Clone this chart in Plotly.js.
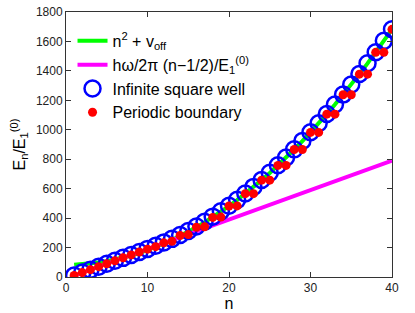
<!DOCTYPE html>
<html>
<head>
<meta charset="utf-8">
<script src="https://cdn.plot.ly/plotly-3.0.1.min.js"></script>
<style>html,body{margin:0;padding:0;background:#fff}#chart{width:415px;height:313px}</style>
</head>
<body>
<div id="chart"></div>
<script>
// level index
const levels = [1,2,3,4,5,6,7,8,9,10,11,12,13,14,15,16,17,18,19,20,21,22,23,24,25,26,27,28,29,30,31,32,33,34,35,36,37,38,39,40];
// n^2 + v_off curve
const freeCurve = [83,86,91,98,107,118,131,146,163,182,203,226,251,278,307,338,371,406,443,482,523,566,611,658,707,758,811,866,923,982,1043,1106,1171,1238,1307,1378,1451,1526,1603,1682];
// harmonic line endpoints
const harmN = [1, 40];
const harmE = [10, 790];
// infinite square well levels
const squareWell = [10,30,50,70,90,110,130,150,170,191,212,235,259,285,313,343,375,410,446,484,524,567,612,659,708,759,812,867,924,983,1044,1107,1172,1239,1308,1379,1452,1527,1604,1683];
// periodic boundary levels
const periodic = [10,30,50,70,90,110,130,150,170,189,206,232,242,282,288,338,341,405,407,482,483,566,566,658,658,758,758,866,866,982,982,1106,1106,1238,1238,1378,1378,1526,1526,1682];

const xTicks = [0,10,20,30,40];
const yTicks = [0,200,400,600,800,1000,1200,1400,1600,1800];

const traces = [
  {x: levels, y: freeCurve, type:'scatter', mode:'lines', name:'n<sup>2</sup> + v<sub>off</sub>',
   line:{color:'#00ff00', width:4}},
  {x: harmN, y: harmE, type:'scatter', mode:'lines', name:'hω/2π (n−1/2)/E<sub>1</sub><sup>(0)</sup>',
   line:{color:'#ff00ff', width:4}},
  {x: levels, y: squareWell, type:'scatter', mode:'markers', name:'Infinite square well',
   marker:{symbol:'circle-open', size:16, color:'#0000ff', line:{width:2.5, color:'#0000ff'}}},
  {x: levels, y: periodic, type:'scatter', mode:'markers', name:'Periodic boundary',
   marker:{symbol:'circle', size:9, color:'#ff0000'}}
];

const axisCommon = {
  showgrid:false, zeroline:false, showline:true, linecolor:'#333', linewidth:1,
  mirror:'ticks', ticks:'inside', ticklen:5, tickcolor:'#333',
  tickfont:{family:'Liberation Sans, Arial, sans-serif', size:12, color:'#222'}
};

const layout = {
  width:415, height:313,
  margin:{l:66, r:23, t:12, b:36},
  paper_bgcolor:'#fff', plot_bgcolor:'#fff',
  font:{family:'Liberation Sans, Arial, sans-serif', color:'#000'},
  xaxis: Object.assign({}, axisCommon, {range:[0,40], tickvals:xTicks, ticktext:xTicks.map(String),
    title:{text:'n', font:{size:16}, standoff:2}}),
  yaxis: Object.assign({}, axisCommon, {range:[0,1800], tickvals:yTicks, ticktext:yTicks.map(String),
    title:{text:'E<sub>n</sub>/E<sub>1</sub><sup>(0)</sup>', font:{size:16}, standoff:6}}),
  showlegend:true,
  legend:{x:0.02, y:0.955, xanchor:'left', yanchor:'top', bgcolor:'rgba(0,0,0,0)', borderwidth:0,
    font:{family:'Liberation Sans, Arial, sans-serif', size:16, color:'#000'}, itemwidth:30}
};

Plotly.newPlot('chart', traces, layout, {displayModeBar:false, staticPlot:true});
</script>
</body>
</html>
